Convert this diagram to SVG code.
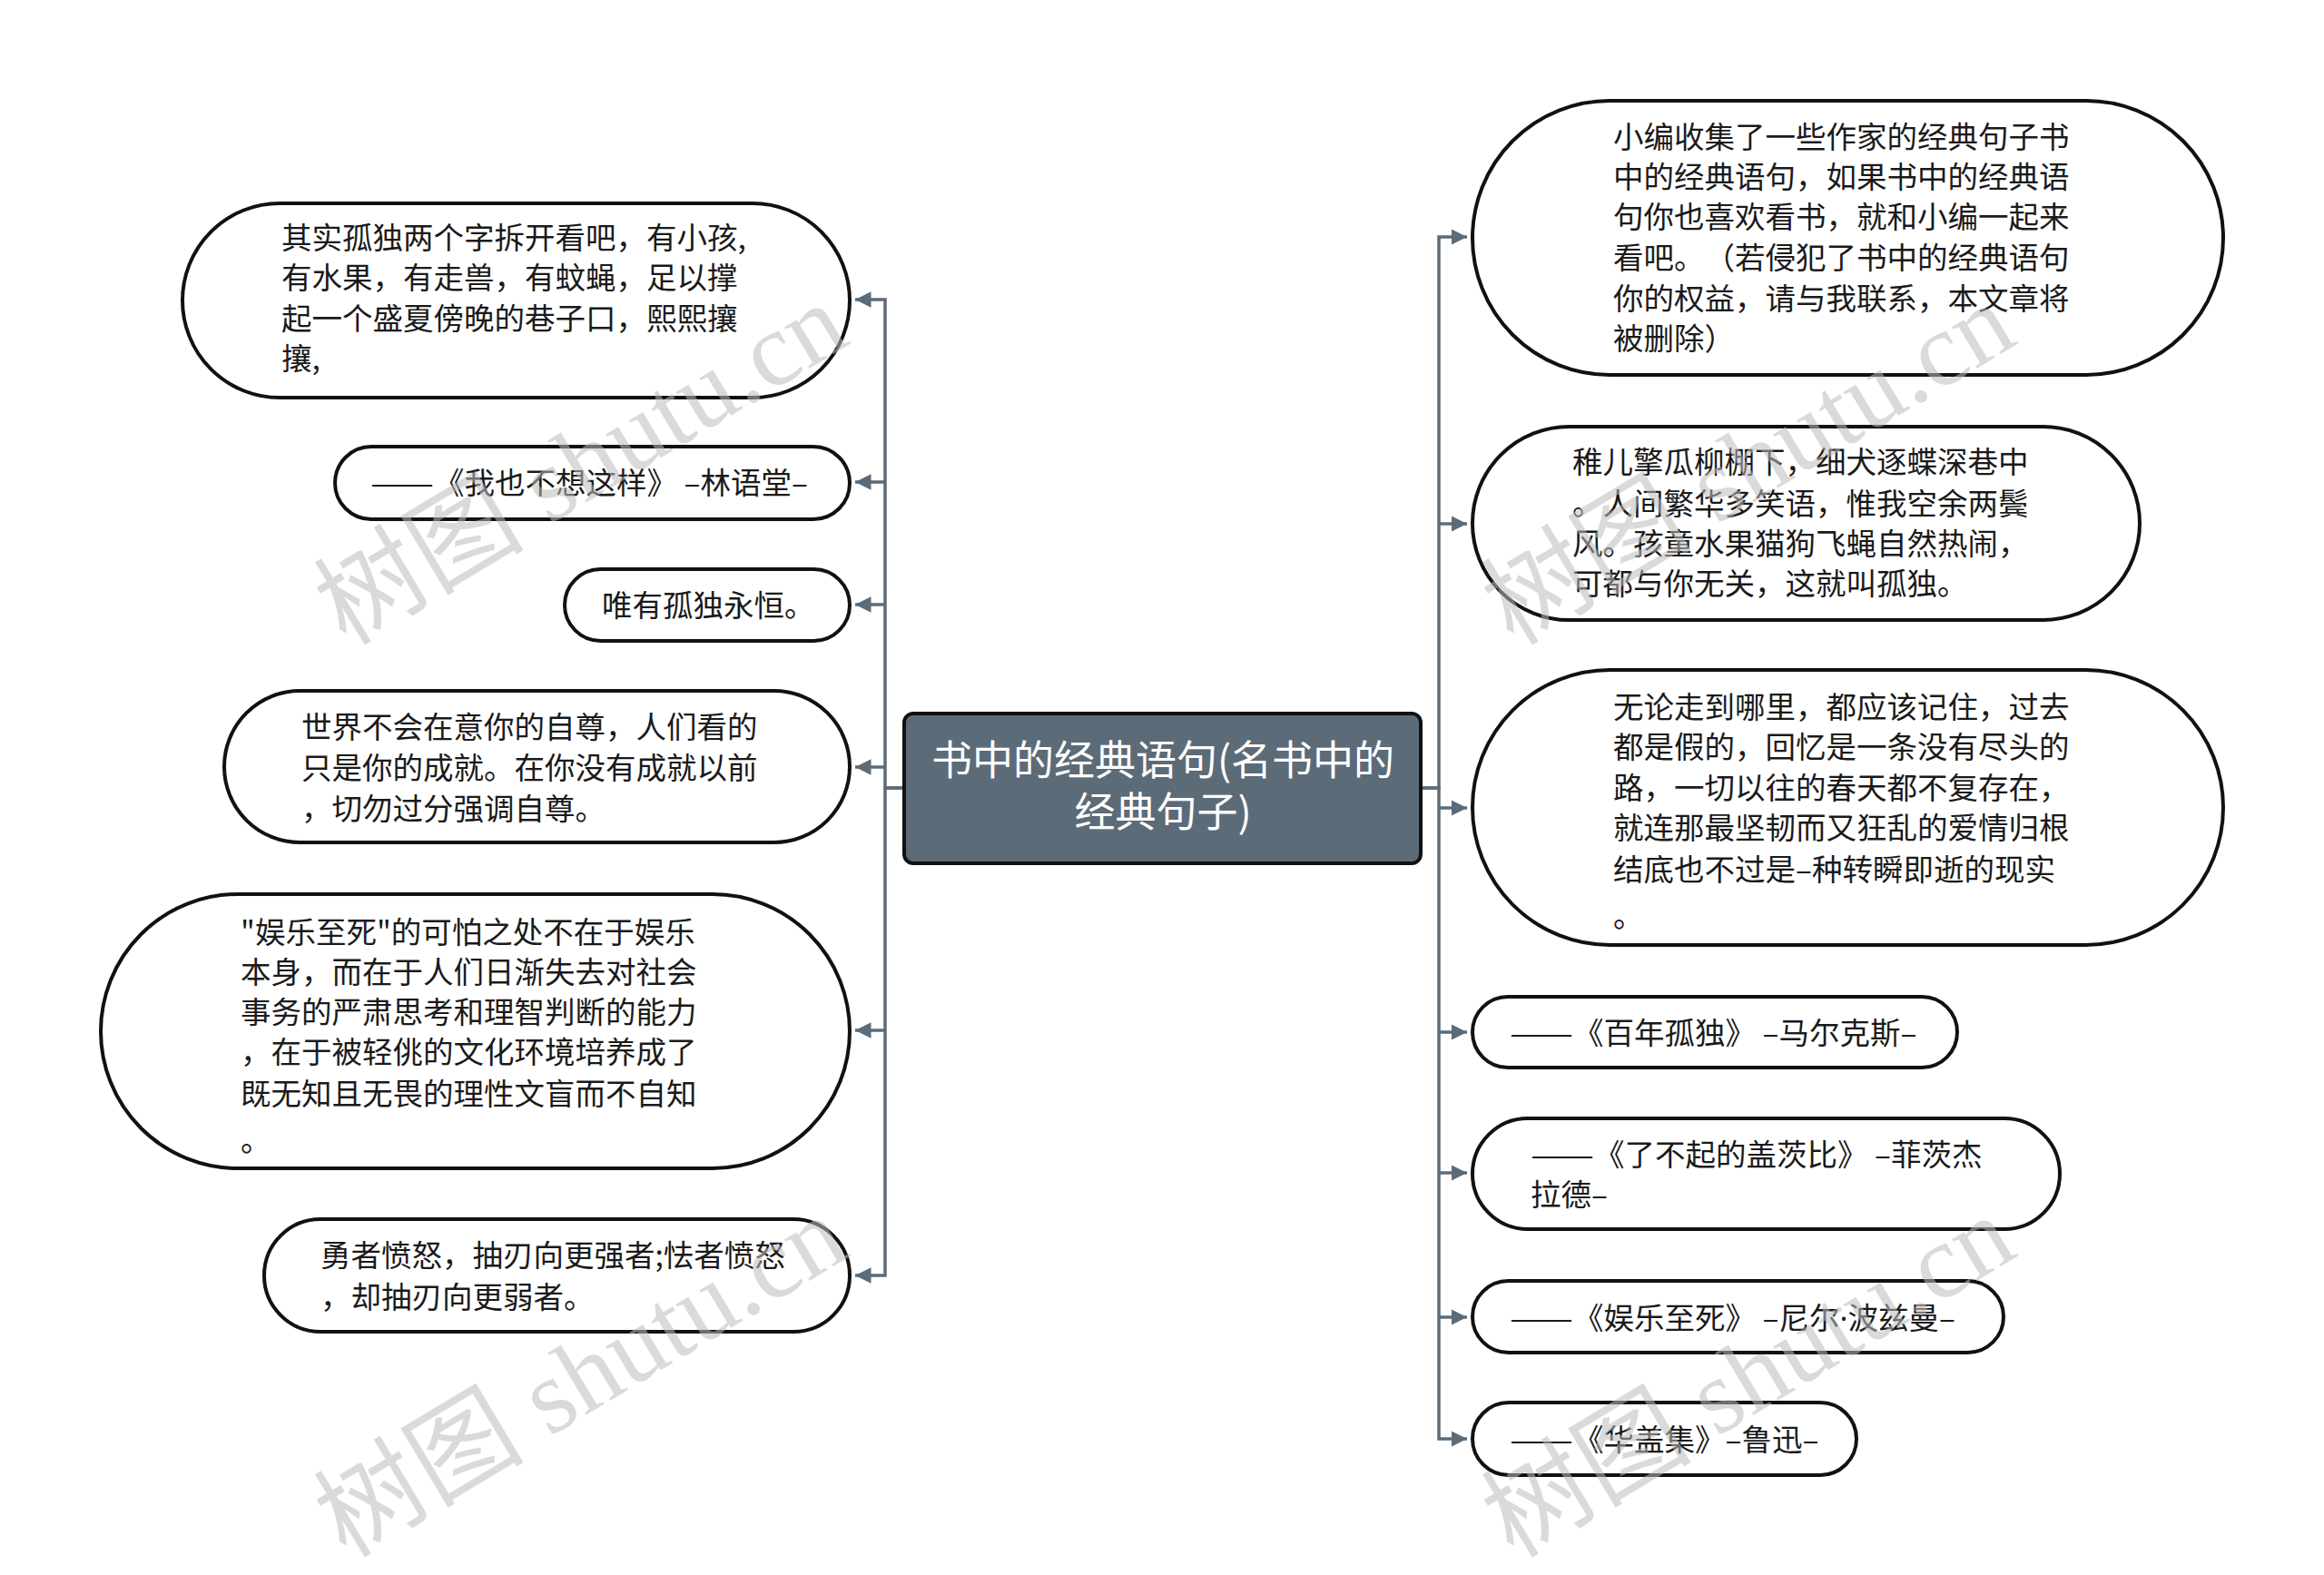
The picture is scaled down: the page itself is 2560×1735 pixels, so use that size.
<svg xmlns="http://www.w3.org/2000/svg" width="2560" height="1735" viewBox="0 0 2560 1735">
<defs>
<style>
.node{fill:#ffffff;stroke:#111111;stroke-width:4}
.root{fill:#5c6b78;stroke:#111111;stroke-width:4}
.t{font-family:"Noto Sans CJK SC","Noto Sans",sans-serif;font-size:33.5px;fill:#1a1a1a;text-spacing-trim:space-all}
.rt{font-family:"Noto Sans CJK SC","Noto Sans",sans-serif;font-size:45px;fill:#ffffff;text-anchor:middle}
.lat{font-family:"Noto Sans",sans-serif}
.c{fill:none;stroke:#5c6b78;stroke-width:3.5}
.wm{font-family:"Liberation Serif","Noto Sans CJK SC",serif;font-size:116px;fill:#bbbbbb;fill-opacity:0.55;text-anchor:middle}
</style>
<marker id="ar" viewBox="0 0 10 10" refX="10" refY="5" markerWidth="5" markerHeight="5" orient="auto" markerUnits="strokeWidth">
<path d="M0,0 L10,5 L0,10 z" fill="#5c6b78"/>
</marker>
</defs>
<rect width="2560" height="1735" fill="#ffffff"/>
<g id="connectors">
<path class="c" d="M996 868 H975 V330 H942" marker-end="url(#ar)"/>
<path class="c" d="M975 531 H942" marker-end="url(#ar)"/>
<path class="c" d="M975 666 H942" marker-end="url(#ar)"/>
<path class="c" d="M975 845 H942" marker-end="url(#ar)"/>
<path class="c" d="M975 1135 H942" marker-end="url(#ar)"/>
<path class="c" d="M996 868 H975 V1405 H942" marker-end="url(#ar)"/>
<path class="c" d="M1565 868 H1585 V261 H1616" marker-end="url(#ar)"/>
<path class="c" d="M1585 577 H1616" marker-end="url(#ar)"/>
<path class="c" d="M1585 890 H1616" marker-end="url(#ar)"/>
<path class="c" d="M1585 1137 H1616" marker-end="url(#ar)"/>
<path class="c" d="M1585 1292 H1616" marker-end="url(#ar)"/>
<path class="c" d="M1585 1451 H1616" marker-end="url(#ar)"/>
<path class="c" d="M1565 868 H1585 V1585 H1616" marker-end="url(#ar)"/>
</g>
<g id="root">
<rect class="root" x="996" y="786" width="569" height="165" rx="10"/>
<text class="rt" x="1281" y="854">书中的经典语句(名书中的</text>
<text class="rt" x="1281" y="911">经典句子)</text>
</g>
<g id="L1">
<rect class="node" x="201" y="224" width="735" height="214" rx="107"/>
<text class="t" x="310" y="274">其实孤独两个字拆开看吧，有小孩,</text>
<text class="t" x="310" y="318">有水果，有走兽，有蚊蝇，足以撑</text>
<text class="t" x="310" y="363">起一个盛夏傍晚的巷子口，熙熙攘</text>
<text class="t" x="310" y="407">攘,</text>
</g>
<g id="L2">
<rect class="node" x="369" y="492" width="567" height="80" rx="40"/>
<text class="t" x="408" y="544"><tspan textLength="70" lengthAdjust="spacingAndGlyphs">——</tspan>《我也不想这样》 –林语堂–</text>
</g>
<g id="L3">
<rect class="node" x="622" y="627" width="314" height="79" rx="39.5"/>
<text class="t" x="663" y="679">唯有孤独永恒。</text>
</g>
<g id="L4">
<rect class="node" x="247" y="761" width="689" height="167" rx="83.5"/>
<text class="t" x="332" y="813">世界不会在意你的自尊，人们看的</text>
<text class="t" x="332" y="858">只是你的成就。在你没有成就以前</text>
<text class="t" x="332" y="903">，切勿过分强调自尊。</text>
</g>
<g id="L5">
<rect class="node" x="111" y="985" width="825" height="302" rx="151"/>
<text class="t" x="265" y="1039">"娱乐至死"的可怕之处不在于娱乐</text>
<text class="t" x="265" y="1083">本身，而在于人们日渐失去对社会</text>
<text class="t" x="265" y="1127">事务的严肃思考和理智判断的能力</text>
<text class="t" x="265" y="1171">，在于被轻佻的文化环境培养成了</text>
<text class="t" x="265" y="1217">既无知且无畏的理性文盲而不自知</text>
<text class="t" x="265" y="1268">。</text>
</g>
<g id="L6">
<rect class="node" x="291" y="1343" width="645" height="124" rx="62"/>
<text class="t" x="353" y="1395">勇者愤怒，抽刃向更强者;怯者愤怒</text>
<text class="t" x="353" y="1441">，却抽刃向更弱者。</text>
</g>
<g id="R1">
<rect class="node" x="1622" y="111" width="827" height="302" rx="151"/>
<text class="t" x="1777" y="163">小编收集了一些作家的经典句子书</text>
<text class="t" x="1777" y="207">中的经典语句，如果书中的经典语</text>
<text class="t" x="1777" y="251">句你也喜欢看书，就和小编一起来</text>
<text class="t" x="1777" y="296">看吧。（若侵犯了书中的经典语句</text>
<text class="t" x="1777" y="341">你的权益，请与我联系，本文章将</text>
<text class="t" x="1777" y="385">被删除）</text>
</g>
<g id="R2">
<rect class="node" x="1622" y="470" width="735" height="213" rx="106.5"/>
<text class="t" x="1732" y="521">稚儿擎瓜柳棚下，细犬逐蝶深巷中</text>
<text class="t" x="1732" y="567">。人间繁华多笑语，惟我空余两鬓</text>
<text class="t" x="1732" y="611">风。孩童水果猫狗飞蝇自然热闹，</text>
<text class="t" x="1732" y="655">可都与你无关，这就叫孤独。</text>
</g>
<g id="R3">
<rect class="node" x="1622" y="738" width="827" height="303" rx="151.5"/>
<text class="t" x="1777" y="791">无论走到哪里，都应该记住，过去</text>
<text class="t" x="1777" y="835">都是假的，回忆是一条没有尽头的</text>
<text class="t" x="1777" y="880">路，一切以往的春天都不复存在，</text>
<text class="t" x="1777" y="924">就连那最坚韧而又狂乱的爱情归根</text>
<text class="t" x="1777" y="970">结底也不过是–种转瞬即逝的现实</text>
<text class="t" x="1777" y="1021">。</text>
</g>
<g id="R4">
<rect class="node" x="1622" y="1098" width="534" height="78" rx="39"/>
<text class="t" x="1663" y="1150"><tspan textLength="70" lengthAdjust="spacingAndGlyphs">——</tspan>《百年孤独》 –马尔克斯–</text>
</g>
<g id="R5">
<rect class="node" x="1622" y="1232" width="647" height="122" rx="61"/>
<text class="t" x="1686" y="1284"><tspan textLength="70" lengthAdjust="spacingAndGlyphs">——</tspan>《了不起的盖茨比》 –菲茨杰</text>
<text class="t" x="1686" y="1328">拉德–</text>
</g>
<g id="R6">
<rect class="node" x="1622" y="1411" width="585" height="79" rx="39.5"/>
<text class="t" x="1663" y="1464"><tspan textLength="70" lengthAdjust="spacingAndGlyphs">——</tspan>《娱乐至死》 –尼尔<tspan class="lat">·</tspan>波兹曼–</text>
</g>
<g id="R7">
<rect class="node" x="1622" y="1545" width="423" height="80" rx="40"/>
<text class="t" x="1663" y="1598"><tspan textLength="70" lengthAdjust="spacingAndGlyphs">——</tspan>《华盖集》–鲁迅–</text>
</g>
<g id="watermarks">
<text class="wm" transform="translate(660 545) rotate(-31)">树图 shutu.cn</text>
<text class="wm" transform="translate(1946 545) rotate(-31)">树图 shutu.cn</text>
<text class="wm" transform="translate(660 1550) rotate(-31)">树图 shutu.cn</text>
<text class="wm" transform="translate(1946 1550) rotate(-31)">树图 shutu.cn</text>
</g>
</svg>
